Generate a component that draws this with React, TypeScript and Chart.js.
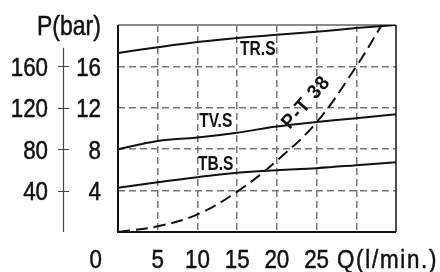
import React, { useEffect, useRef } from "react";
import { Chart, registerables } from "chart.js";

Chart.register(...registerables);

// ---- data ----
const flowQ = [0, 5, 10, 15, 20, 25, 30, 35];
const trsP = [17.3, 17.85, 18.35, 18.75, 19.05, 19.35, 19.7, 20.0];
const tvsP = [8.0, 8.8, 9.13, 9.6, 10.2, 10.63, 11.0, 11.37];
const tbsP = [4.27, 4.8, 5.3, 5.72, 5.97, 6.17, 6.45, 6.75];
const ptQ = [0, 5, 10, 15, 20, 25, 30, 33.2];
const ptP = [0, 0.55, 1.7, 3.9, 6.9, 10.6, 16.0, 20.0];

const xTickValues = [5, 10, 15, 20, 25];
const xTickLabels = ["5", "10", "15", "20", "25"];
const yTickValues = [16, 12, 8, 4];
const yInnerLabels = ["16", "12", "8", "4"];
const yOuterLabels = ["160", "120", "80", "40"];
const yTitle = "P(bar)";
const xTitle = "Q(l/min.)";
const zeroLabel = "0";

const curveLabels = ["TR.S", "TV.S", "TB.S"];
const curveLabelQ = [17.6, 12.3, 12.3];
const curveLabelP = [17.7, 10.68, 6.57];
const ptLabel = "P-T 38";
const ptLabelQ = 23.7;
const ptLabelP = 12.5;

const FONT = '"Liberation Sans", Arial, sans-serif';

const pts = (xs: number[], ys: number[]) => xs.map((x, i) => ({ x, y: ys[i] }));

function txt(ctx: any, s: string, x: number, y: number, align: string, font: string, sx: number, spacing = 0, heavy = 0.5) {
  ctx.save();
  ctx.font = font;
  ctx.textAlign = align;
  ctx.letterSpacing = `${spacing}px`;
  ctx.translate(x, y);
  ctx.scale(sx, 1);
  ctx.fillText(s, 0, 0);
  if (heavy > 0) {
    ctx.lineWidth = heavy;
    ctx.strokeStyle = ctx.fillStyle;
    ctx.strokeText(s, 0, 0);
  }
  ctx.restore();
}

const decorPlugin = {
  id: "decor",
  beforeDatasetsDraw(chart: any) {
    const { ctx, chartArea: a } = chart;
    ctx.save();
    ctx.setLineDash([]);
    ctx.strokeStyle = "#8a8a8a";
    ctx.lineWidth = 2;
    ctx.beginPath();
    ctx.moveTo(a.left, a.top);
    ctx.lineTo(a.right, a.top);
    ctx.stroke();
    ctx.strokeStyle = "#111";
    ctx.lineWidth = 1.5;
    ctx.beginPath();
    ctx.moveTo(a.right, a.top);
    ctx.lineTo(a.right, a.bottom);
    ctx.stroke();
    ctx.lineWidth = 2;
    ctx.beginPath();
    ctx.moveTo(a.left, a.top);
    ctx.lineTo(a.left, a.bottom);
    ctx.lineTo(a.right, a.bottom);
    ctx.stroke();
    ctx.restore();
  },
  afterDraw(chart: any) {
    const { ctx } = chart;
    const xs = chart.scales.x;
    const ys = chart.scales.y;
    ctx.save();
    ctx.fillStyle = "#111";
    ctx.textBaseline = "alphabetic";

    // left axis line with crosses
    ctx.strokeStyle = "#444";
    ctx.lineWidth = 1.2;
    ctx.beginPath();
    ctx.moveTo(63.5, ys.getPixelForValue(17.8));
    ctx.lineTo(63.5, ys.getPixelForValue(0));
    yTickValues.forEach((v) => {
      const py = Math.round(ys.getPixelForValue(v)) + 0.5;
      ctx.moveTo(58, py);
      ctx.lineTo(69, py);
    });
    ctx.stroke();

    const f26 = `26px ${FONT}`;
    yTickValues.forEach((v, i) => {
      const py = ys.getPixelForValue(v) + 9.3;
      txt(ctx, yOuterLabels[i], 48, py, "right", f26, 0.86);
      txt(ctx, yInnerLabels[i], 101, py, "right", f26, 0.86);
    });
    txt(ctx, zeroLabel, 102, 268, "right", f26, 0.86);
    xTickValues.forEach((v, i) => {
      txt(ctx, xTickLabels[i], xs.getPixelForValue(v), 268, "center", f26, 0.86);
    });
    txt(ctx, xTitle, 337, 268, "left", f26, 0.86, 2);
    txt(ctx, yTitle, 37, 35, "left", `28px ${FONT}`, 0.82);

    ctx.textBaseline = "middle";
    const fb = `bold 21px ${FONT}`;
    curveLabels.forEach((t, i) => {
      txt(ctx, t, xs.getPixelForValue(curveLabelQ[i]), ys.getPixelForValue(curveLabelP[i]), "center", fb, 0.74, 0, 0);
    });
    ctx.translate(xs.getPixelForValue(ptLabelQ), ys.getPixelForValue(ptLabelP));
    ctx.rotate((-49 * Math.PI) / 180);
    txt(ctx, ptLabel, 0, 0, "center", `bold 20px ${FONT}`, 0.95, 1, 0);
    ctx.restore();
  },
};

const hideEdge = (edges: number[]) => (c: any) =>
  c.tick && edges.includes(c.tick.value) ? "rgba(0,0,0,0)" : "#777";

export default function App() {
  const ref = useRef<HTMLCanvasElement | null>(null);
  useEffect(() => {
    document.body.style.margin = "0";
    if (!ref.current) return;
    const line = { borderColor: "#111", borderWidth: 2, pointRadius: 0, tension: 0.4 };
    const chart = new Chart(ref.current, {
      type: "line",
      data: {
        datasets: [
          { data: pts(flowQ, trsP), ...line },
          { data: pts(flowQ, tvsP), ...line },
          { data: pts(flowQ, tbsP), ...line },
          { data: pts(ptQ, ptP), ...line, borderDash: [12, 6] },
        ],
      },
      options: {
        responsive: false,
        animation: false,
        events: [],
        layout: { padding: { left: 118, top: 25, right: 44, bottom: 40 } },
        plugins: { legend: { display: false }, tooltip: { enabled: false } },
        scales: {
          x: {
            type: "linear",
            min: 0,
            max: 35,
            ticks: { display: false, stepSize: 5 },
            grid: { color: hideEdge([0, 35]), lineWidth: 1.5, drawTicks: false },
            border: { display: false, dash: [7, 4] },
            afterFit: (s: any) => { s.height = 0; },
          },
          y: {
            type: "linear",
            min: 0,
            max: 20,
            ticks: { display: false, stepSize: 4 },
            grid: { color: hideEdge([0, 20]), lineWidth: 1.5, drawTicks: false },
            border: { display: false, dash: [7, 4] },
            afterFit: (s: any) => { s.width = 0; },
          },
        },
      },
      plugins: [decorPlugin],
    } as any);
    return () => chart.destroy();
  }, []);
  return (
    <div style={{ width: 440, height: 272 }}>
      <canvas ref={ref} width={440} height={272} />
    </div>
  );
}
